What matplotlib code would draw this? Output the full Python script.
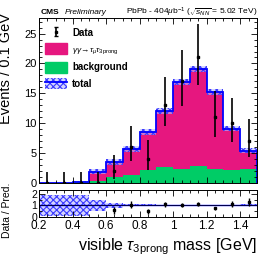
import numpy as np
import matplotlib
matplotlib.use("Agg")
import matplotlib.pyplot as plt
from matplotlib.patches import Patch
from matplotlib.lines import Line2D
from matplotlib.ticker import MultipleLocator

plt.rcParams['font.family'] = ['Liberation Sans', 'DejaVu Sans']
plt.rcParams['mathtext.fontset'] = 'custom'
plt.rcParams['mathtext.rm'] = 'Liberation Sans'
plt.rcParams['mathtext.it'] = 'Liberation Sans:italic'
plt.rcParams['mathtext.bf'] = 'Liberation Sans:bold'
plt.rcParams['hatch.linewidth'] = 0.8

# binning (GeV)
edges = [0.2, 0.3, 0.4, 0.5, 0.6, 0.7, 0.8, 0.9, 1.0, 1.1, 1.2, 1.3, 1.4, 1.5]
centers = [0.25, 0.35, 0.45, 0.55, 0.65, 0.75, 0.85, 0.95, 1.05, 1.15, 1.25, 1.35, 1.45]

# stacked prediction
background = [0.0, 0.0, 0.15, 0.35, 0.95, 1.4, 2.2, 2.7, 2.4, 2.9, 2.35, 2.2, 2.3]
total = [0.0, 0.0, 0.2, 1.9, 3.5, 5.7, 8.5, 12.1, 16.9, 19.1, 15.2, 9.1, 5.4]
total_err = [0.05, 0.05, 0.1, 0.4, 0.45, 0.45, 0.5, 0.5, 0.55, 0.55, 0.5, 0.45, 0.4]

# data
data = [0, 0, 0, 0, 2, 6, 4, 13, 17, 21, 11, 10, 7]
data_err_lo = [0, 0, 0, 0, 1.29, 2.38, 1.91, 3.55, 4.06, 4.53, 3.26, 3.11, 2.58]
data_err_hi = [1.84, 1.84, 1.84, 1.84, 2.64, 3.58, 3.16, 4.71, 5.20, 5.66, 4.42, 4.27, 3.77]

# ratio panel
band_lo = [0.05, 0.05, 0.05, 0.5, 0.8, 0.92, 0.93, 0.94, 0.95, 0.95, 0.95, 0.94, 0.93]
band_hi = [1.9, 1.9, 1.9, 1.45, 1.2, 1.08, 1.07, 1.06, 1.05, 1.05, 1.05, 1.06, 1.07]
ratio_err = [0, 0, 0, 0, 0.3, 0.3, 0.2, 0.25, 0.2, 0.2, 0.15, 0.25, 0.35]

green = '#00cc66'
pink = '#e6177f'
blue = '#0000ff'
band_face = (0.72, 0.72, 1.0, 0.6)
band_hatch = '#3a3aff'

edges = np.array(edges)
centers = np.array(centers)
background = np.array(background)
total = np.array(total)
total_err = np.array(total_err)
data = np.array(data, dtype=float)

fig = plt.figure(figsize=(2.66, 2.58), dpi=100)
ax = fig.add_axes([0.1466, 0.291, 0.8195, 0.639])
rx = fig.add_axes([0.1466, 0.159, 0.8195, 0.105])

# stack
ax.stairs(background, edges, fill=True, color=green, lw=0)
ax.stairs(total, edges, baseline=background, fill=True, color=pink, lw=0)
ax.stairs(total + total_err, edges, baseline=total - total_err, fill=True,
          facecolor=band_face, edgecolor=band_hatch, hatch='xxxxx', lw=0)
ax.stairs(total, edges, baseline=0, color=blue, lw=1.3)

ax.errorbar(centers, data, yerr=[data_err_lo, data_err_hi], fmt='s', color='k',
            ms=2, lw=1.2, capsize=0)

ax.set_xlim(0.2, 1.5)
ax.set_ylim(0, 27.6)
ax.set_ylabel('Events / 0.1 GeV', fontsize=10.5, loc='top')
ax.yaxis.set_label_coords(-0.12, 1.03)
ax.tick_params(labelbottom=False)
ax.yaxis.set_major_locator(MultipleLocator(5))
ax.yaxis.set_minor_locator(MultipleLocator(1))

for a in (ax, rx):
    a.xaxis.set_major_locator(MultipleLocator(0.2))
    a.xaxis.set_minor_locator(MultipleLocator(0.05))
    a.tick_params(which='both', direction='in', top=True, right=True, width=0.6,
                  labelsize=8, pad=1.5)
    a.tick_params(which='major', length=4)
    a.tick_params(which='minor', length=2)
    for s in a.spines.values():
        s.set_linewidth(0.7)

# legend
data_h = ax.errorbar([np.nan], [np.nan], yerr=[1], fmt='s', color='k', ms=2,
                     lw=1.2, capsize=1.5)
tot_h = (Patch(facecolor=band_face, edgecolor=band_hatch, hatch='xxxxx', lw=0),
         Line2D([], [], color=blue, lw=1.3))
leg = ax.legend([data_h, Patch(color=pink), Patch(color=green), tot_h],
                ['Data', r'$\gamma\gamma\!\rightarrow\!\tau_{\mu}\tau_{3\mathrm{prong}}$',
                 'background', 'total'],
                loc='upper left', bbox_to_anchor=(0.0, 0.98), frameon=False,
                fontsize=7, handlelength=2.3, handleheight=1.35,
                labelspacing=0.55, handletextpad=0.5, borderaxespad=0.2)
for i, t in enumerate(leg.get_texts()):
    if i != 1:
        t.set_fontweight('bold')
    else:
        t.set_fontsize(6)

fig.text(0.152, 0.945, 'CMS', fontsize=6, fontweight='bold')
fig.text(0.245, 0.945, 'Preliminary', fontsize=6, style='italic')
fig.text(0.968, 0.945, r'PbPb - 404$\mu$b$^{-1}$ ($\sqrt{s_{NN}}$ = 5.02 TeV)',
         fontsize=6, ha='right')

# ratio panel
rx.stairs(band_hi, edges, baseline=band_lo, fill=True, facecolor=band_face,
          edgecolor=band_hatch, hatch='xxxxx', lw=0)
rx.axhline(1, color=blue, lw=1.0)
rx.axhline(1, color='k', lw=0.5)
with np.errstate(divide='ignore', invalid='ignore'):
    ratio = np.where((data > 0) & (total > 0), data / np.where(total > 0, total, 1), np.nan)
rx.errorbar(centers, ratio, yerr=ratio_err, fmt='s', color='k', ms=1.5, lw=1.0,
            capsize=0)
rx.set_xlim(0.2, 1.5)
rx.set_ylim(-0.03, 2.35)
rx.yaxis.set_major_locator(MultipleLocator(1))
rx.yaxis.set_minor_locator(MultipleLocator(0.5))
rx.tick_params(axis='y', labelsize=7.5)
rx.tick_params(axis='x', which='major', pad=2.5)
rx.set_xticks([0.2, 0.4, 0.6, 0.8, 1.0, 1.2, 1.4])
rx.set_xticklabels(['0.2', '0.4', '0.6', '0.8', '1', '1.2', '1.4'], fontsize=8.5)
rx.set_ylabel('Data / Pred.', fontsize=7.5)
rx.yaxis.set_label_coords(-0.125, 0.25)

fig.text(0.968, 0.03, r'visible $\tau_{3\mathrm{prong}}$ mass [GeV]', fontsize=11.5,
         ha='right')

fig.savefig('out.png', dpi=100)
